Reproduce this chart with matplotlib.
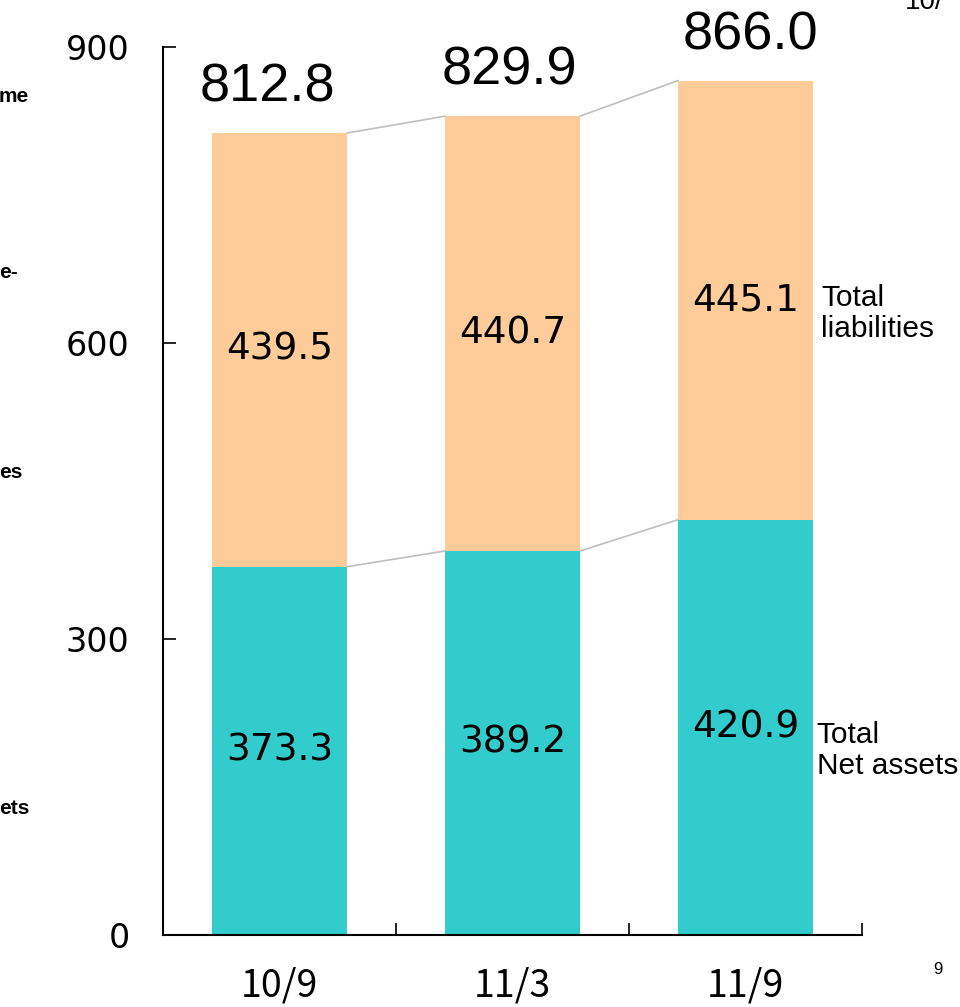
import numpy as np
import matplotlib
matplotlib.use("Agg")
from matplotlib import pyplot as plt

periods = ["10/9", "11/3", "11/9"]
net_assets = [373.3, 389.2, 420.9]
liabilities = [439.5, 440.7, 445.1]
totals = [812.8, 829.9, 866.0]
y_ticks = [0, 300, 600, 900]

teal = "#33CCCC"
peach = "#FFCC99"
jp = ["Noto Sans CJK JP", "DejaVu Sans"]

fig = plt.figure(figsize=(9.6, 10.07), dpi=100)
ax = fig.add_axes([163 / 960, 1 - 935 / 1007, (862 - 163) / 960, (935 - 47) / 1007])

x = np.arange(len(periods))
w = 0.58
ax.bar(x, net_assets, width=w, color=teal, zorder=2)
ax.bar(x, liabilities, width=w, bottom=net_assets, color=peach, zorder=2)

# thin grey connectors between neighbouring bars
for i in range(len(periods) - 1):
    ax.plot([x[i] + w / 2, x[i + 1] - w / 2], [net_assets[i], net_assets[i + 1]],
            color="#BFBFBF", lw=1.2, zorder=1)
    ax.plot([x[i] + w / 2, x[i + 1] - w / 2], [totals[i], totals[i + 1]],
            color="#BFBFBF", lw=1.2, zorder=1)

total_dx = [-0.05, -0.015, 0.02]
for i in range(len(periods)):
    ax.text(x[i], net_assets[i] / 2, f"{net_assets[i]:.1f}", ha="center", va="center",
            fontsize=27, family="DejaVu Sans", zorder=3)
    ax.text(x[i], net_assets[i] + liabilities[i] / 2, f"{liabilities[i]:.1f}",
            ha="center", va="center", fontsize=27, family="DejaVu Sans", zorder=3)
    ax.text(x[i] + total_dx[i], totals[i] + 46, f"{totals[i]:.1f}", ha="center",
            va="center", fontsize=39, family="Liberation Sans", clip_on=False)
    ax.text(x[i], -52, periods[i], ha="center", va="center", fontsize=27,
            family=jp, clip_on=False)

ax.text(2.325, 630, "Total\nliabilities", ha="left", va="center", fontsize=21.5,
        family="Liberation Sans", linespacing=1.15, clip_on=False)
ax.text(2.305, 187, "Total\nNet assets", ha="left", va="center", fontsize=21.5,
        family="Liberation Sans", linespacing=1.15, clip_on=False)

ax.set_xlim(-0.5, 2.5)
ax.set_ylim(0, 900)
ax.set_yticks(y_ticks)
ax.set_yticklabels([str(t) for t in y_ticks], fontsize=24, family="DejaVu Sans")
ax.set_xticks([0.5, 1.5, 2.5])
ax.set_xticklabels([])
ax.tick_params(axis="y", direction="in", length=9, width=1.2, pad=24)
ax.tick_params(axis="x", direction="in", length=9, width=1.2)
ax.spines["top"].set_visible(False)
ax.spines["right"].set_visible(False)
for s in ("left", "bottom"):
    ax.spines[s].set_linewidth(1.5)

# page number and fragments of neighbouring slide text
fig.text(938 / 960, 1 - 970 / 1007, "9", fontsize=12, ha="center", va="center",
         family="Liberation Sans")
for y_px, frag in [(97, "me"), (273, "e-"), (472, "es"), (808, "ets")]:
    fig.text(-1 / 960, 1 - y_px / 1007, frag, fontsize=15, ha="left", va="center",
             family="Liberation Sans", fontweight="bold")
fig.text(905 / 960, 1 - 9 / 1007, "10/", fontsize=20, ha="left", va="baseline",
         family="Liberation Sans")

fig.savefig("out.png", dpi=100)
